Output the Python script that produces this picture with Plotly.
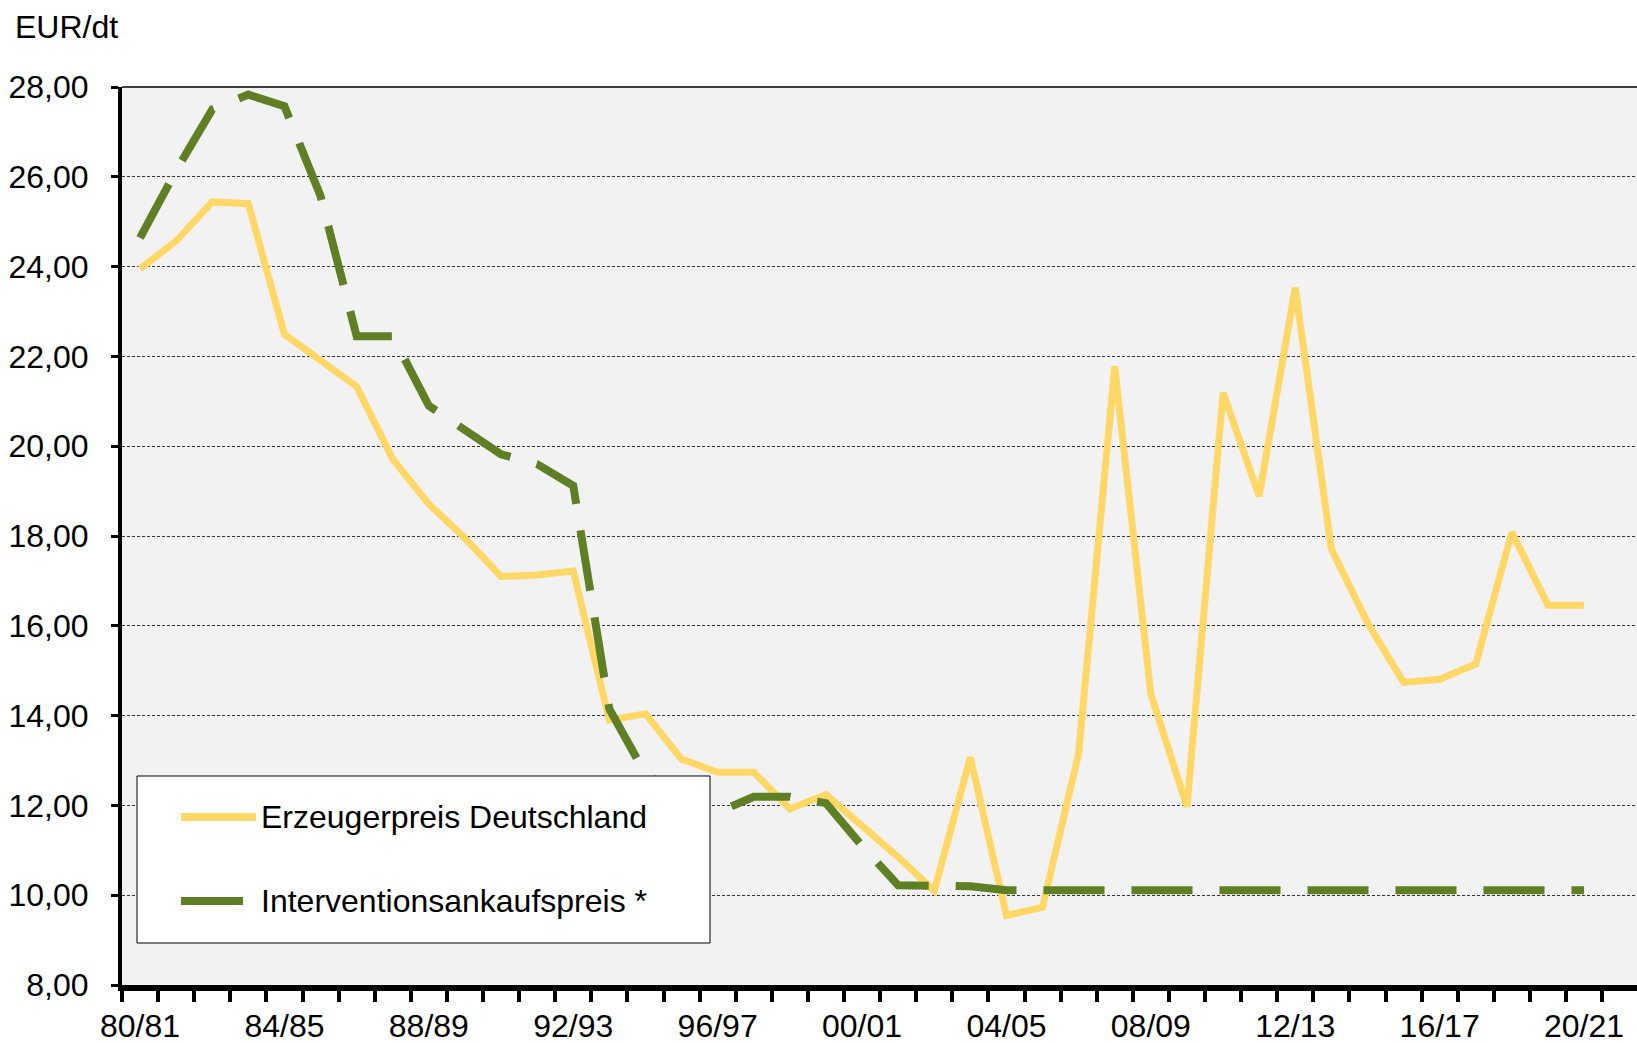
import plotly.graph_objects as go

seasons = ["80/81", "81/82", "82/83", "83/84", "84/85", "85/86", "86/87", "87/88",
           "88/89", "89/90", "90/91", "91/92", "92/93", "93/94", "94/95", "95/96",
           "96/97", "97/98", "98/99", "99/00", "00/01", "01/02", "02/03", "03/04",
           "04/05", "05/06", "06/07", "07/08", "08/09", "09/10", "10/11", "11/12",
           "12/13", "13/14", "14/15", "15/16", "16/17", "17/18", "18/19", "19/20",
           "20/21"]

erzeugerpreis = [23.95, 24.57, 25.44, 25.40, 22.49, 21.90, 21.33, 19.71, 18.71, 17.95,
                 17.10, 17.13, 17.22, 13.90, 14.04, 13.03, 12.74, 12.74, 11.92, 12.24,
                 11.55, 10.85, 10.10, 13.07, 9.55, 9.73, 13.16, 21.78, 14.48, 11.97,
                 21.19, 18.89, 23.53, 17.71, 16.07, 14.74, 14.81, 15.15, 18.08, 16.46,
                 16.46]

intervention = [24.64, 26.14, 27.50, 27.83, 27.57, 25.57, 22.45, 22.45, 20.90, 20.35,
                19.82, 19.60, 19.12, 14.15, 12.70, 12.20, 11.85, 12.19, 12.19, 12.05,
                11.10, 10.22, 10.22, 10.20, 10.11, 10.11, 10.11, 10.11, 10.11, 10.11,
                10.11, 10.11, 10.11, 10.11, 10.11, 10.11, 10.11, 10.11, 10.11, 10.11,
                10.11]

series_names = ["Erzeugerpreis Deutschland", "Interventionsankaufspreis *"]
y_ticks = [8, 10, 12, 14, 16, 18, 20, 22, 24, 26, 28]
unit_label = "EUR/dt"

YELLOW = "#FFD766"
GREEN = "#5F7F24"
FONT = "Liberation Sans, Arial, sans-serif"
FS = 32

W, H = 1637, 1043
ML, MR, MT, MB = 122, 0, 87, H - 985
PW, PH = W - ML - MR, H - MT - MB


def px(xs):
    return (xs - ML) / PW


def py(ys):
    return (H - MB - ys) / PH


x_idx = list(range(len(seasons)))

fig = go.Figure()
fig.add_trace(go.Scatter(x=x_idx, y=erzeugerpreis, mode="lines", name=series_names[0],
                         line=dict(color=YELLOW, width=7), showlegend=False))
fig.add_trace(go.Scatter(x=x_idx, y=intervention, mode="lines", name=series_names[1],
                         line=dict(color=GREEN, width=8, dash="61px,27px"), showlegend=False))

shapes = []
shapes.append(dict(type="line", xref="paper", yref="paper", x0=0, x1=1, y0=1, y1=1,
                   line=dict(color="black", width=1.5)))
shapes.append(dict(type="rect", xref="paper", yref="paper", x0=px(137), x1=px(710),
                   y0=py(943), y1=py(776), fillcolor="white",
                   line=dict(color="black", width=1)))
shapes.append(dict(type="line", xref="paper", yref="paper", x0=px(181), x1=px(256),
                   y0=py(817), y1=py(817), line=dict(color=YELLOW, width=8)))
shapes.append(dict(type="line", xref="paper", yref="paper", x0=px(181), x1=px(243),
                   y0=py(901), y1=py(901), line=dict(color=GREEN, width=8)))

annotations = [
    dict(text=unit_label, xref="paper", yref="paper", x=px(13), y=py(27),
         xanchor="left", yanchor="middle", showarrow=False,
         font=dict(family=FONT, size=FS, color="black")),
    dict(text=series_names[0], xref="paper", yref="paper", x=px(259), y=py(817),
         xanchor="left", yanchor="middle", showarrow=False,
         font=dict(family=FONT, size=FS, color="black")),
    dict(text=series_names[1], xref="paper", yref="paper", x=px(259), y=py(901),
         xanchor="left", yanchor="middle", showarrow=False,
         font=dict(family=FONT, size=FS, color="black")),
]

fig.update_layout(
    width=W, height=H,
    margin=dict(l=ML, r=MR, t=MT, b=MB, pad=0),
    paper_bgcolor="white",
    plot_bgcolor="#F2F2F2",
    separators=",.",
    font=dict(family=FONT, size=FS, color="black"),
    shapes=shapes,
    annotations=annotations,
    showlegend=False,
)

fig.update_xaxes(
    range=[-0.5, -0.5 + PW / 36.1],
    automargin=False,
    tickmode="array",
    tickvals=x_idx[::4],
    ticktext=seasons[::4],
    ticks="",
    showgrid=False,
    zeroline=False,
    showline=True,
    linecolor="black",
    linewidth=6,
    ticklabelstandoff=8,
    tickfont=dict(family=FONT, size=FS, color="black"),
    minor=dict(tick0=-0.5, dtick=1, ticks="outside", ticklen=11, tickwidth=4,
               tickcolor="black", showgrid=False),
)

fig.update_yaxes(
    range=[8, 28],
    automargin=False,
    tickmode="array",
    tickvals=y_ticks,
    tickformat=".2f",
    ticks="outside",
    ticklen=7,
    tickwidth=3,
    tickcolor="black",
    showline=True,
    linecolor="black",
    linewidth=4,
    showgrid=True,
    gridcolor="#333333",
    gridwidth=1,
    griddash="3px,2px",
    zeroline=False,
    ticklabelstandoff=16,
    tickfont=dict(family=FONT, size=FS, color="black"),
)

fig.write_html(
    "out.html",
    config={"displayModeBar": False, "staticPlot": True},
    post_script="document.body.style.margin='0';"
                "document.documentElement.style.overflow='hidden';"
                "document.body.style.overflow='hidden';",
)
